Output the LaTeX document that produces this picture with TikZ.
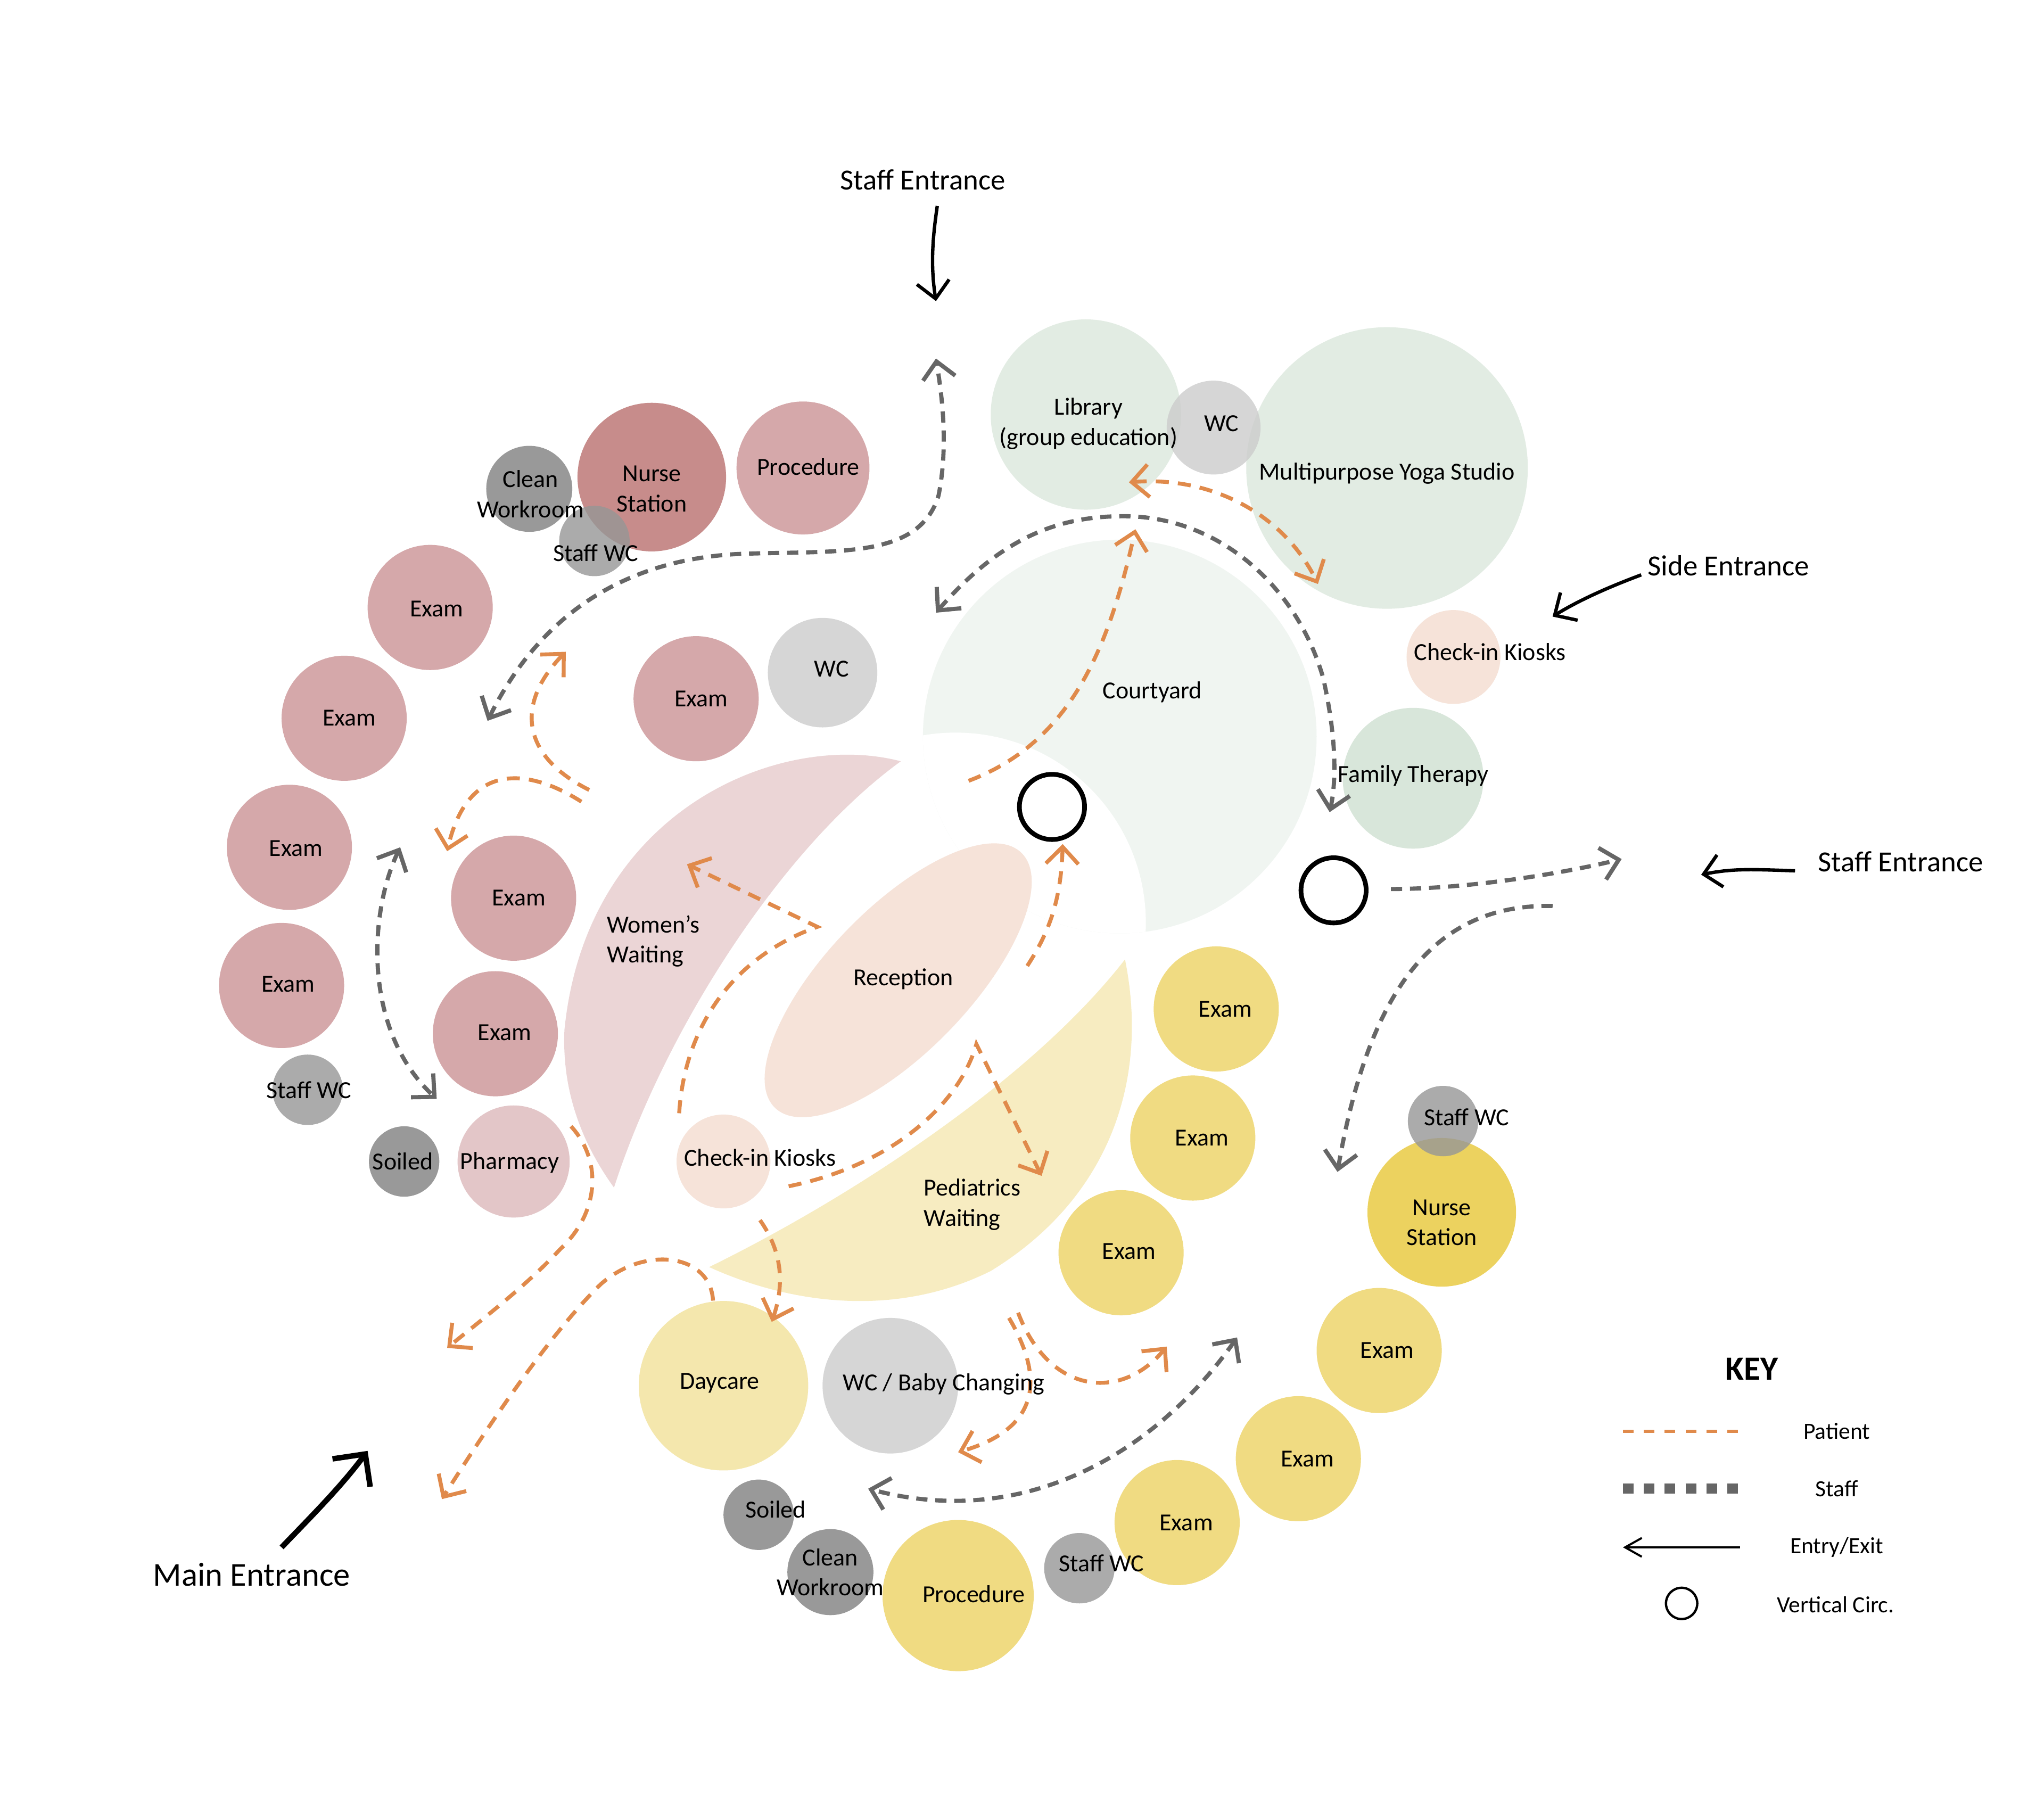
\documentclass[tikz,border=0pt]{standalone}
\usepackage{fontspec}
\setmainfont{Carlito}
\usetikzlibrary{arrows.meta}

\definecolor{exampink}{HTML}{D5A8AA}
\definecolor{nursepink}{HTML}{C78C8B}
\definecolor{pharmpink}{HTML}{E3C6C8}
\definecolor{womenpink}{HTML}{EBD5D6}
\definecolor{peach}{HTML}{F6E3D9}
\definecolor{yardgreen}{HTML}{F0F5F1}
\definecolor{libgreen}{HTML}{E2ECE3}
\definecolor{famgreen}{HTML}{D8E6DA}
\definecolor{pedsyellow}{HTML}{F7ECC1}
\definecolor{examyellow}{HTML}{F0DB82}
\definecolor{nurseyellow}{HTML}{ECD25F}
\definecolor{dayyellow}{HTML}{F4E7AD}
\definecolor{darkgrey}{HTML}{999999}
\definecolor{staffwcgrey}{HTML}{969696}
\definecolor{wcgrey}{HTML}{D6D6D6}
\definecolor{wctopgrey}{HTML}{CCCCCC}
\definecolor{patientc}{HTML}{E08A4B}
\definecolor{staffc}{HTML}{666666}

\newcommand\roomfont{\fontsize{9.4}{11.5}\selectfont}
\newcommand\entryfont{\fontsize{11.2}{13}\selectfont}
\newcommand\mainentryfont{\fontsize{12.8}{15}\selectfont}
\newcommand\keyfont{\fontsize{8.9}{10}\selectfont}
\newcommand\keyheadfont{\fontsize{13}{15}\selectfont\bfseries}

\tikzset{every picture/.style={line width=0.75pt}}
\tikzset{
  room/.style={circle, inner sep=0pt, minimum size=#1},
  staffwc/.style={fill=staffwcgrey, fill opacity=0.8},
  rtext/.style={font=\roomfont, align=center, inner sep=0pt},
  etext/.style={font=\entryfont, inner sep=0pt},
  ktext/.style={font=\keyfont, inner sep=0pt},
  vcirc/.style={circle, draw=black, line width=1.8pt, fill=white, inner sep=0pt, minimum size=25pt},
  patient/.style={draw=patientc, line width=1.5pt, dash pattern=on 5pt off 3.5pt},
  staff/.style={draw=staffc, line width=1.6pt, dash pattern=on 4.3pt off 3pt},
  entry/.style={draw=black, line width=1.3pt, -{Straight Barb[length=6.5pt,width=12.5pt]}},
  >={Straight Barb[length=6.5pt,width=12.5pt]},
}

\begin{document}
\begin{tikzpicture}[x=0.5pt,y=0.5pt,yscale=-1,xscale=1]
%set diagram at 0,0 with the size of the whole sheet
\fill[white] (0,0) rectangle (1568,1384.6);
\useasboundingbox (0,0) rectangle (1568,1384.6);

%Shape: Courtyard
\fill[yardgreen] (859,565) circle [radius=151];
\begin{scope}
\clip (859,565) circle [radius=151];
\fill[white] (733,708) circle [radius=146];
\end{scope}

%Shape: Women's waiting
\fill[womenpink] (691,584) .. controls (600,560) and (450,620) .. (433,790)
  .. controls (431,835) and (445,875) .. (471,911)
  .. controls (510,790) and (600,650) .. (691,584) -- cycle;
%Shape: Pediatrics waiting
\fill[pedsyellow] (863,736) .. controls (882,830) and (850,920) .. (760,975)
  .. controls (690,1010) and (610,1002) .. (544,972)
  .. controls (650,920) and (790,830) .. (863,736) -- cycle;
%Shape: Reception
\fill[peach, rotate around={-46:(689,752)}] (689,752) ellipse [x radius=136, y radius=55];

%Shape: Circles, green wing
\node[room=73pt, fill=libgreen] (lib) at (833,318) {};
\node[room=108pt, fill=libgreen] (yoga) at (1064,359) {};
\node[room=36pt, fill=wctopgrey, fill opacity=0.8] (wcTop) at (931,328) {};
\node[room=36pt, fill=peach] (kioskR) at (1115,504) {};
\node[room=54pt, fill=famgreen] (famTher) at (1084,597) {};

%Shape: Circles, women's wing
\node[room=33pt, fill=darkgrey] (cwTop) at (406,375) {};
\node[room=57pt, fill=nursepink] (nsTop) at (500,366) {};
\node[room=27pt, staffwc] (swcTop) at (456,415) {};
\node[room=51pt, fill=exampink] (procTop) at (616,359) {};
\node[room=48pt, fill=exampink] (exL1) at (330,466) {};
\node[room=48pt, fill=exampink] (exL2) at (264,551) {};
\node[room=48pt, fill=exampink] (exL3) at (222,650) {};
\node[room=48pt, fill=exampink] (exL4) at (216,756) {};
\node[room=48pt, fill=exampink] (exL5) at (394,689) {};
\node[room=48pt, fill=exampink] (exL6) at (380,793) {};
\node[room=48pt, fill=exampink] (exL7) at (534,536) {};
\node[room=42pt, fill=wcgrey] (wcL) at (631,516) {};
\node[room=27pt, staffwc] (swcL) at (236,836) {};
\node[room=27pt, fill=darkgrey] (soiledL) at (310,891) {};
\node[room=43pt, fill=pharmpink] (pharm) at (394,891) {};
\node[room=36pt, fill=peach] (kioskL) at (555,891) {};

%Shape: Circles, pediatrics wing
\node[room=48pt, fill=examyellow] (exY1) at (933,774) {};
\node[room=48pt, fill=examyellow] (exY2) at (915,873) {};
\node[room=48pt, fill=examyellow] (exY3) at (860,961) {};
\node[room=57pt, fill=nurseyellow] (nsR) at (1106,930) {};
\node[room=27pt, staffwc] (swcR) at (1107,860) {};
\node[room=48pt, fill=examyellow] (exY4) at (1058,1036) {};
\node[room=48pt, fill=examyellow] (exY5) at (996,1119) {};
\node[room=48pt, fill=examyellow] (exY6) at (903,1168) {};
\node[room=27pt, staffwc] (swcB) at (828,1203) {};
\node[room=58pt, fill=examyellow] (procB) at (735,1224) {};
\node[room=33pt, fill=darkgrey] (cwB) at (637,1206) {};
\node[room=27pt, fill=darkgrey] (soiledB) at (582,1162) {};
\node[room=65pt, fill=dayyellow] (daycare) at (555,1063) {};
\node[room=52pt, fill=wcgrey] (wcBaby) at (683,1063) {};

%Shape: Vertical circulation
\node[vcirc] (vc1) at (807,619) {};
\node[vcirc] (vc2) at (1023,683) {};

%Staff routes
\coordinate (stA1) at (374,553);
\coordinate (stA2) at (566,425);
\coordinate (stA3) at (720,380);
\coordinate (stA4) at (718,275);
\draw[staff, <->] (stA1) .. controls (410,480) and (470,430) .. (stA2)
  .. controls (640,422) and (705,430) .. (stA3) .. controls (728,340) and (722,300) .. (stA4);
\coordinate (stB1) at (718,470);
\coordinate (stB2) at (862,396);
\coordinate (stB3) at (1015,520);
\coordinate (stB4) at (1020,623);
\draw[staff, <->] (stB1) .. controls (770,410) and (815,396) .. (stB2)
  .. controls (935,396) and (995,450) .. (stB3) .. controls (1024,560) and (1026,595) .. (stB4);
\coordinate (stC1) at (1067,682);
\coordinate (stC2) at (1244,659);
\draw[staff, ->] (stC1) .. controls (1120,682) and (1190,672) .. (stC2);
\coordinate (stD1) at (1191,695);
\coordinate (stD2) at (1026,899);
\draw[staff, ->] (stD1) .. controls (1100,693) and (1050,760) .. (stD2);
\coordinate (stE1) at (949,1026);
\coordinate (stE2) at (666,1142);
\draw[staff, <->] (stE1) .. controls (890,1110) and (790,1175) .. (stE2);
\coordinate (stF1) at (307,650);
\coordinate (stF2) at (335,843);
\draw[staff, <->] (stF1) .. controls (283,700) and (278,790) .. (stF2);

%Patient routes
\coordinate (ptA1) at (866,370);
\coordinate (ptA2) at (1011,448);
\draw[patient, <->] (ptA1) .. controls (930,365) and (985,395) .. (ptA2);
\coordinate (ptB1) at (743,599);
\coordinate (ptB2) at (871,406);
\draw[patient, ->] (ptB1) .. controls (820,570) and (850,500) .. (ptB2);
\coordinate (ptC1) at (788,741);
\draw[patient, ->, shorten >=1.5pt] (ptC1) .. controls (805,715) and (814,690) .. (vc1.-72);
\coordinate (ptD1) at (521,854);
\coordinate (ptD2) at (627,711);
\coordinate (ptD3) at (527,663);
\draw[patient, ->] (ptD1) .. controls (525,790) and (560,735) .. (ptD2) -- (ptD3);
\coordinate (ptE1) at (605,910);
\coordinate (ptE2) at (749,801);
\coordinate (ptE3) at (799,902);
\draw[patient, ->] (ptE1) .. controls (680,895) and (735,850) .. (ptE2) -- (ptE3);
\coordinate (ptF1) at (452,606);
\coordinate (ptF2) at (434,500);
\draw[patient, ->] (ptF1) .. controls (400,580) and (395,540) .. (ptF2);
\coordinate (ptG1) at (446,615);
\coordinate (ptG2) at (343,653);
\draw[patient, ->] (ptG1) .. controls (410,592) and (360,580) .. (ptG2);
\coordinate (ptH1) at (438,864);
\coordinate (ptH2) at (430,958);
\coordinate (ptH3) at (343,1034);
\draw[patient, ->] (ptH1) .. controls (462,890) and (460,930) .. (ptH2)
  .. controls (405,985) and (375,1008) .. (ptH3);
\coordinate (ptI2) at (461,985);
\coordinate (ptI3) at (339,1150);
\draw[patient, ->] (daycare.97) .. controls (545,962) and (495,955) .. (ptI2)
  .. controls (425,1020) and (380,1085) .. (ptI3);
\coordinate (ptJ1) at (583,936);
\coordinate (ptJ2) at (592,1014);
\draw[patient, ->] (ptJ1) .. controls (600,960) and (602,985) .. (ptJ2);
\coordinate (ptK1) at (774,1011);
\coordinate (ptK2) at (735,1114);
\draw[patient, ->] (ptK1) .. controls (800,1055) and (800,1095) .. (ptK2);
\coordinate (ptL1) at (781,1007);
\coordinate (ptL2) at (895,1033);
\draw[patient, ->] (ptL1) .. controls (805,1070) and (860,1075) .. (ptL2);

%Entrances
\coordinate (stfTopA) at (719,158);
\coordinate (stfTopB) at (718,231);
\draw[entry] (stfTopA) .. controls (715,185) and (714,205) .. (stfTopB);
\coordinate (sideA) at (1259,441);
\coordinate (sideB) at (1191,473);
\draw[entry] (sideA) .. controls (1235,450) and (1212,460) .. (sideB);
\coordinate (rstA) at (1377,668);
\coordinate (rstB) at (1305,671);
\draw[entry] (rstA) .. controls (1345,667) and (1330,666) .. (rstB);
\coordinate (mainA) at (216,1187);
\coordinate (mainB) at (282,1113);
\draw[entry, line width=2.1pt, -{Straight Barb[length=9pt,width=18pt]}] (mainA) .. controls (240,1162) and (262,1140) .. (mainB);

%Key
\node[font=\keyheadfont, inner sep=0pt] (keyT) at (1344,1050) {KEY};
\coordinate (kPa) at (1245,1098);
\coordinate (kPb) at (1333,1098);
\draw[draw=patientc, line width=1.4pt, dash pattern=on 4.1pt off 3.9pt] (kPa) -- (kPb);
\coordinate (kSa) at (1245,1142);
\coordinate (kSb) at (1333,1142);
\draw[draw=staffc, line width=3.9pt, dash pattern=on 4.1pt off 3.9pt] (kSa) -- (kSb);
\coordinate (kEa) at (1245,1187);
\coordinate (kEb) at (1335,1187);
\draw[black, line width=0.8pt, {Straight Barb[length=6.4pt,width=7.2pt]}-] (kEa) -- (kEb);
\node[vcirc, minimum size=12pt, line width=0.9pt] (kVc) at (1290,1230) {};

% Text Node
\node[ktext] (kPt) at (1409,1098) {Patient};
\node[ktext] (kSt) at (1409,1142) {Staff};
\node[ktext] (kEt) at (1409,1187) {Entry/Exit};
\node[ktext] (kVt) at (1408,1231) {Vertical Circ.};

\node[etext] (stfTop) at (708,138) {Staff Entrance};
\node[etext] (sideT) at (1326,434) {Side Entrance};
\node[etext] (stfRight) at (1458,661) {Staff Entrance};
\node[font=\mainentryfont, inner sep=0pt] (mainT) at (193,1208) {Main Entrance};

\node[rtext] (yardT) at (884,531) {Courtyard};
\node[rtext, anchor=west, align=left] (wwT) at (465,722) {Women’s\\Waiting};
\node[rtext, anchor=west, align=left] (pedT) at (708,924) {Pediatrics\\Waiting};
\node[rtext] (recT) at (693,751) {Reception};

\node[rtext] (libT) at (835,325) {Library\\(group education)};
\node[rtext] (yogaT) at (1064,363) {Multipurpose Yoga Studio};
\node[rtext] (wcTopT) at (937,325) {WC};
\node[rtext] (kioskRT) at (1143,500) {Check-in Kiosks};
\node[rtext] (famTherT) at (1084,595) {Family Therapy};

\node[rtext] (cwTopT) at (407,379) {Clean\\Workroom};
\node[rtext] (nsTopT) at (500,375) {Nurse\\Station};
\node[rtext] (swcTopT) at (457,424) {Staff WC};
\node[rtext] (procTopT) at (620,358) {Procedure};
\node[rtext] (exL1T) at (335,467) {Exam};
\node[rtext] (exL2T) at (268,551) {Exam};
\node[rtext] (exL3T) at (227,651) {Exam};
\node[rtext] (exL4T) at (221,755) {Exam};
\node[rtext] (exL5T) at (398,689) {Exam};
\node[rtext] (exL6T) at (387,792) {Exam};
\node[rtext] (exL7T) at (538,536) {Exam};
\node[rtext] (wcLT) at (638,513) {WC};
\node[rtext] (swcLT) at (237,836) {Staff WC};
\node[rtext] (soiledLT) at (309,891) {Soiled};
\node[rtext] (pharmT) at (391,892) {Pharmacy};
\node[rtext] (kioskLT) at (583,888) {Check-in Kiosks};

\node[rtext] (exY1T) at (940,774) {Exam};
\node[rtext] (exY2T) at (922,873) {Exam};
\node[rtext] (exY3T) at (866,960) {Exam};
\node[rtext] (nsRT) at (1106,938) {Nurse\\Station};
\node[rtext] (swcRT) at (1125,857) {Staff WC};
\node[rtext] (exY4T) at (1064,1036) {Exam};
\node[rtext] (exY5T) at (1003,1119) {Exam};
\node[rtext] (exY6T) at (910,1168) {Exam};
\node[rtext] (swcBT) at (845,1199) {Staff WC};
\node[rtext] (procBT) at (747,1223) {Procedure};
\node[rtext] (cwBT) at (637,1206) {Clean\\Workroom};
\node[rtext] (soiledBT) at (595,1158) {Soiled};
\node[rtext] (daycareT) at (552,1061) {Daycare};
\node[rtext] (wcBabyT) at (724,1062) {WC / Baby Changing};

\end{tikzpicture}
\end{document}
